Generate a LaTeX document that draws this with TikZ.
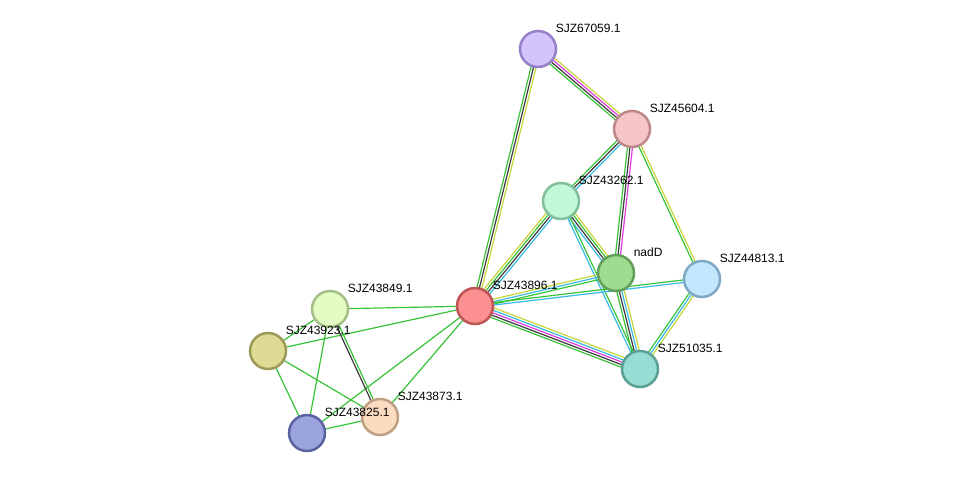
\documentclass[tikz,border=0pt]{standalone}
\usepackage{fontspec}
\setmainfont{Liberation Sans}
\usetikzlibrary{calc,backgrounds}

\definecolor{cgrn}{RGB}{55,195,55}
\definecolor{ctxt}{RGB}{198,214,56}
\definecolor{cblk}{RGB}{60,60,60}
\definecolor{cmag}{RGB}{222,60,222}
\definecolor{ccyn}{RGB}{56,186,228}

\tikzset{
  prot/.style={circle, minimum size=36pt, inner sep=0pt, line width=2.5pt},
  lbl/.style={font=\fontsize{12}{14}\selectfont, inner sep=1pt, xshift=3pt, yshift=2pt},
  lnk/.style={line width=1.2pt},
}

% one coloured line per evidence channel, side by side
\newcommand{\lnkdraw}[3]{%
  \foreach \c/\o in {#3}
    \draw[lnk, draw=\c] ($(#1)!\o pt!90:(#2)$) -- ($(#2)!\o pt!-90:(#1)$);}

\begin{document}
\begin{tikzpicture}[x=1pt,y=-1pt]
\useasboundingbox (0,0) rectangle (976,479);

% proteins
\node[prot, fill={rgb,255:red,212;green,196;blue,252}, draw={rgb,255:red,152;green,128;blue,200},
      label={[lbl]45:SJZ67059.1}] (n67059) at (538,49) {};
\node[prot, fill={rgb,255:red,246;green,198;blue,198}, draw={rgb,255:red,190;green,136;blue,136},
      label={[lbl]45:SJZ45604.1}] (n45604) at (632,129) {};
\node[prot, fill={rgb,255:red,192;green,248;blue,216}, draw={rgb,255:red,130;green,192;blue,156},
      label={[lbl]45:SJZ43262.1}] (n43262) at (561,201) {};
\node[prot, fill={rgb,255:red,158;green,220;blue,143}, draw={rgb,255:red,98;green,160;blue,90},
      label={[lbl]45:nadD}] (nnadD) at (616,273) {};
\node[prot, fill={rgb,255:red,194;green,230;blue,252}, draw={rgb,255:red,125;green,168;blue,198},
      label={[lbl]45:SJZ44813.1}] (n44813) at (702,279) {};
\node[prot, fill={rgb,255:red,252;green,144;blue,144}, draw={rgb,255:red,190;green,86;blue,86},
      label={[lbl]45:SJZ43896.1}] (n43896) at (475,306) {};
\node[prot, fill={rgb,255:red,152;green,221;blue,212}, draw={rgb,255:red,90;green,159;blue,150},
      label={[lbl]45:SJZ51035.1}] (n51035) at (640,369) {};
\node[prot, fill={rgb,255:red,226;green,252;blue,196}, draw={rgb,255:red,165;green,192;blue,134},
      label={[lbl]45:SJZ43849.1}] (n43849) at (330,309) {};
\node[prot, fill={rgb,255:red,222;green,220;blue,148}, draw={rgb,255:red,156;green,154;blue,87},
      label={[lbl]45:SJZ43923.1}] (n43923) at (268,351) {};
\node[prot, fill={rgb,255:red,252;green,220;blue,192}, draw={rgb,255:red,191;green,160;blue,131},
      label={[lbl]45:SJZ43873.1}] (n43873) at (380,417) {};
\node[prot, fill={rgb,255:red,156;green,164;blue,224}, draw={rgb,255:red,90;green,99;blue,160},
      label={[lbl]45:SJZ43825.1}] (n43825) at (307,433) {};

% links
\begin{scope}[on background layer]
\lnkdraw{n67059}{n43896}{cgrn/-2.5, cblk/0, ctxt/2.5}
\lnkdraw{n67059}{n45604}{cgrn/-3.75, cblk/-1.25, cmag/1.25, ctxt/3.75}
\lnkdraw{n45604}{n43262}{cgrn/-2.5, cblk/0, ccyn/2.5}
\lnkdraw{n45604}{nnadD}{cgrn/-2.5, cblk/0, cmag/2.5}
\lnkdraw{n45604}{n44813}{cgrn/-1.25, ctxt/1.25}
\lnkdraw{n43262}{n43896}{ctxt/-3.75, cgrn/-1.25, cblk/1.25, ccyn/3.75}
\lnkdraw{n43262}{nnadD}{ccyn/-3.75, cblk/-1.25, cgrn/1.25, ctxt/3.75}
\lnkdraw{n43262}{n51035}{ccyn/-1.25, cgrn/1.25}
\lnkdraw{nnadD}{n43896}{ctxt/-2.5, ccyn/0, cgrn/2.5}
\lnkdraw{nnadD}{n51035}{cgrn/-3.75, cblk/-1.25, ccyn/1.25, ctxt/3.75}
\lnkdraw{n44813}{n43896}{cgrn/-1.25, ccyn/1.25}
\lnkdraw{n44813}{n51035}{cgrn/-2.5, ccyn/0, ctxt/2.5}
\lnkdraw{n43896}{n51035}{cgrn/-5, cblk/-2.5, cmag/0, ccyn/2.5, ctxt/5}
\lnkdraw{n43896}{n43849}{cgrn/0}
\lnkdraw{n43896}{n43923}{cgrn/0}
\lnkdraw{n43896}{n43873}{cgrn/0}
\lnkdraw{n43896}{n43825}{cgrn/0}
\lnkdraw{n43849}{n43923}{cgrn/0}
\lnkdraw{n43849}{n43873}{cblk/-1.25, cgrn/1.25}
\lnkdraw{n43849}{n43825}{cgrn/0}
\lnkdraw{n43923}{n43873}{cgrn/0}
\lnkdraw{n43923}{n43825}{cgrn/0}
\lnkdraw{n43825}{n43873}{cgrn/0}
\end{scope}
\end{tikzpicture}
\end{document}
